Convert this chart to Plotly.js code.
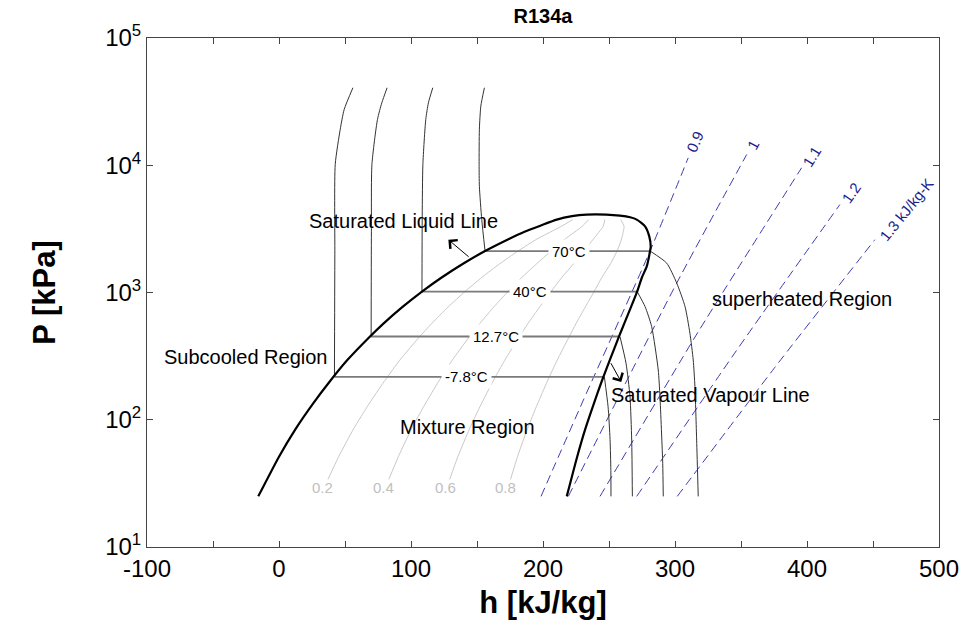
<!DOCTYPE html>
<html>
<head>
<meta charset="utf-8">
<script src="https://cdn.plot.ly/plotly-3.0.1.min.js"></script>
<style>html,body{margin:0;padding:0;background:#fff;}#chart{width:962px;height:628px;}</style>
</head>
<body>
<div id="chart"></div>
<script>
// ---------- Saturation dome (h kJ/kg, P kPa) ----------
const domeH = [-15.7, 0, 12.5, 25.5, 38.6, 51.6, 68.2, 79.3, 93.6, 108.3, 123.5, 139.4, 156.1, 174.2, 186, 198, 210.4, 222, 233, 248, 258.3, 266, 271, 277.3, 280.5, 281.6, 281.1, 278.6, 275, 271.3, 266.7, 261.6, 257.3, 250.5, 244.5, 238.4, 232.0, 225.9, 218];
const domeP = [25, 51.25, 84.43, 132.8, 200.7, 293, 443.3, 572.1, 770.6, 1017, 1318, 1683, 2118, 2635, 3000, 3350, 3741, 3980, 4093, 4093, 4018, 3900, 3741, 3311, 2763, 2301, 2118, 1603, 1318, 1017, 770.6, 572.1, 443.3, 293, 200.7, 132.8, 84.43, 51.25, 25];

// ---------- Quality lines ----------
const qualityLevels = ['0.2', '0.4', '0.6', '0.8'];
const qualityP = [34, 51.25, 84.43, 132.8, 200.7, 293, 443.3, 572.1, 770.6, 1017, 1318, 1683, 2118, 2635, 3311, 3741];
const qualityH02 = [37.1, 45.2, 56.4, 68.1, 79.8, 91.4, 106.0, 115.8, 128.2, 140.9, 153.8, 167.3, 181.1, 195.5, 213.9, 222.5];
const qualityH04 = [83.2, 90.4, 100.3, 110.7, 121.0, 131.2, 143.8, 152.2, 162.8, 173.5, 184.1, 195.2, 206.1, 216.8, 229.7, 234.6];
const qualityH06 = [129.3, 135.5, 144.2, 153.2, 162.1, 171.0, 181.7, 188.7, 197.5, 206.1, 214.4, 223.2, 231.1, 238.2, 245.6, 246.8];
const qualityH08 = [175.4, 180.7, 188.1, 195.8, 203.3, 210.7, 219.5, 225.1, 232.1, 238.7, 244.7, 251.1, 256.1, 259.5, 261.4, 258.9];
const qualityLabelH = [32.7, 78.9, 126.1, 171.5];
const qualityLabelP = 29.2;

// ---------- Isotherms ----------
const tempLabels = ['-7.8°C', '12.7°C', '40°C', '70°C'];
const satP = [217, 451, 1017, 2118];
const satHf = [42, 69.8, 108.3, 156.1];
const satHg = [246.5, 258.3, 271.3, 281.1];
const tempLabelH = [142.3, 164.6, 190.0, 219.5];

const subH_m78 = [42, 42.3, 42.6, 46.4, 49.4, 56];
const subP_m78 = [217, 2000, 10140, 19200, 27480, 40640];
const subH_127 = [69.8, 70.0, 70.4, 74.6, 77.9, 81.9];
const subP_127 = [451, 3000, 10140, 22900, 30970, 40640];
const subH_40 = [108.3, 108.5, 109, 111.2, 113.2, 116.5];
const subP_40 = [1017, 4000, 10140, 22900, 30970, 40640];
const subH_70 = [156.1, 153.6, 151.8, 151.6, 151.8, 152.9, 155.6];
const subP_70 = [2118, 3733, 6839, 10140, 19200, 29170, 40640];

const supH_m78 = [246.5, 249.3, 250.8, 251.4, 251.5];
const supP_m78 = [217, 126.5, 70, 40, 25];
const supH_127 = [258.3, 262.9, 265.9, 267.2, 267.7];
const supP_127 = [451, 278, 152, 69.2, 25];
const supH_40 = [271.3, 277.3, 282.3, 287.3, 288.6, 290.7, 291.1];
const supP_40 = [1017, 776, 540, 246, 152, 45.4, 25];
const supH_70 = [281.1, 293.7, 301.3, 307.6, 311.3, 313.8, 315.1, 316.4, 317.6];
const supP_70 = [2118, 1702, 1186, 776, 478.6, 295, 182, 69.2, 25];

// ---------- Isentropes (kJ/kg-K) ----------
const entropyLabels = ['0.9', '1', '1.1', '1.2', '1.3 kJ/kg-K'];
const sH_09 = [198.5, 230.6, 281.1, 310.0];
const sP_09 = [25, 142.8, 2118, 11430];
const sH_10 = [219.2, 301.3, 354.3];
const sP_10 = [25, 1186, 12130];
const sH_11 = [243.2, 317.3, 395.9];
const sP_11 = [25, 486, 9550];
const sH_12 = [271.0, 346.4, 424.9];
const sP_12 = [25, 348, 4909];
const sH_13 = [301.7, 375.1, 451.4];
const sP_13 = [25, 253.6, 2600];
const entropyLabelH = [315.1, 359.3, 403.5, 433.8, 475.4];
const entropyLabelP = [15450, 14550, 11780, 6065, 4480];
const entropyLabelAngle = [-66, -62, -58, -55, -51];

// ---------- Axis ticks ----------
const xTickVals = [-100, 0, 100, 200, 300, 400, 500];
const xTickText = ['-100', '0', '100', '200', '300', '400', '500'];
const yTickVals = [10, 100, 1000, 10000, 100000];
const yTickText = ['10<sup>1</sup>', '10<sup>2</sup>', '10<sup>3</sup>', '10<sup>4</sup>', '10<sup>5</sup>'];

// ---------- Region labels ----------
const regionText = ['Saturated Liquid Line', 'superheated Region', 'Subcooled Region', 'Mixture Region', 'Saturated Vapour Line'];
const regionH = [94.1, 395.9, -25.6, 142.9, 327.0];
const regionP = [3669, 891, 311.7, 88.4, 156.5];

// arrows: head and tail points
const arrowHeadH = [128.3, 259.3];
const arrowHeadP = [2601, 198];
const arrowTailH = [144.8, 250.8];
const arrowTailP = [1866, 286];

const FONT = 'Liberation Sans, Arial, Helvetica, sans-serif';
const traces = [];
function line(h, p, color, width, dash) {
  traces.push({x: h, y: p, type: 'scatter', mode: 'lines', hoverinfo: 'skip', showlegend: false,
    line: {color: color, width: width, dash: dash || 'solid', shape: 'spline', smoothing: 0.6}});
}

// quality lines
[qualityH02, qualityH04, qualityH06, qualityH08].forEach(h => line(h, qualityP, '#c9c9c9', 1));
// isentropes
const BLUE = '#3c3cb0';
[[sH_09, sP_09], [sH_10, sP_10], [sH_11, sP_11], [sH_12, sP_12], [sH_13, sP_13]].forEach(a => line(a[0], a[1], BLUE, 1, '9px,5px'));
// subcooled and superheated isotherms
[[subH_m78, subP_m78], [subH_127, subP_127], [subH_40, subP_40], [subH_70, subP_70]].forEach(a => line(a[0], a[1], '#333333', 1));
[[supH_m78, supP_m78], [supH_127, supP_127], [supH_40, supP_40], [supH_70, supP_70]].forEach(a => line(a[0], a[1], '#333333', 1));
// horizontal isotherms in dome
for (let i = 0; i < satP.length; i++) {
  traces.push({x: [satHf[i], satHg[i]], y: [satP[i], satP[i]], type: 'scatter', mode: 'lines', hoverinfo: 'skip',
    showlegend: false, line: {color: '#7a7a7a', width: 1.8}});
}
// dome
line(domeH, domeP, '#000000', 2.2);

const annotations = [];
const L = Math.log10;
for (let i = 0; i < tempLabels.length; i++) {
  annotations.push({x: tempLabelH[i], y: L(satP[i]), xref: 'x', yref: 'y', text: tempLabels[i], showarrow: false,
    font: {family: FONT, size: 15, color: '#000'}, bgcolor: '#ffffff', borderpad: 3, xanchor: 'center', yanchor: 'middle'});
}
for (let i = 0; i < qualityLevels.length; i++) {
  annotations.push({x: qualityLabelH[i], y: L(qualityLabelP), xref: 'x', yref: 'y', text: qualityLevels[i], showarrow: false,
    font: {family: FONT, size: 15, color: '#c0c0c0'}, xanchor: 'center', yanchor: 'middle'});
}
for (let i = 0; i < entropyLabels.length; i++) {
  annotations.push({x: entropyLabelH[i], y: L(entropyLabelP[i]), xref: 'x', yref: 'y', text: entropyLabels[i], showarrow: false,
    textangle: entropyLabelAngle[i], font: {family: FONT, size: 15, color: '#1e1e8c'}, xanchor: 'center', yanchor: 'middle'});
}
for (let i = 0; i < regionText.length; i++) {
  annotations.push({x: regionH[i], y: L(regionP[i]), xref: 'x', yref: 'y', text: regionText[i], showarrow: false,
    font: {family: FONT, size: 20, color: '#000'}, xanchor: 'center', yanchor: 'middle'});
}
for (let i = 0; i < arrowHeadH.length; i++) {
  annotations.push({x: arrowHeadH[i], y: L(arrowHeadP[i]), xref: 'x', yref: 'y', ax: arrowTailH[i], ay: L(arrowTailP[i]),
    axref: 'x', ayref: 'y', text: '', showarrow: true, arrowhead: 4, arrowsize: 2.2, arrowwidth: 1, arrowcolor: '#000'});
}

const axisCommon = {showline: true, linecolor: '#444', linewidth: 1, mirror: 'ticks', ticks: 'inside', ticklen: 6,
  tickcolor: '#444', tickwidth: 1, showgrid: false, zeroline: false, tickfont: {family: FONT, size: 24, color: '#000'}};

const layout = {
  width: 962, height: 628,
  margin: {l: 147, r: 23, t: 38, b: 81},
  paper_bgcolor: '#fff', plot_bgcolor: '#fff',
  title: {text: '<b>R134a</b>', x: 0.5, xref: 'paper', y: 0.975, yref: 'container', yanchor: 'middle',
    font: {family: FONT, size: 20, color: '#000'}},
  xaxis: Object.assign({}, axisCommon, {range: [-100, 500], tickmode: 'array', tickvals: xTickVals, ticktext: xTickText,
    minor: {tickmode: 'linear', tick0: -100, dtick: 50, ticks: 'inside', ticklen: 6, tickcolor: '#444', tickwidth: 1, showgrid: false},
    title: {text: '<b>h [kJ/kg]</b>', font: {family: FONT, size: 31, color: '#000'}, standoff: 10}}),
  yaxis: Object.assign({}, axisCommon, {type: 'log', range: [1, 5], tickmode: 'array', tickvals: yTickVals, ticktext: yTickText,
    title: {text: '<b>P [kPa]</b>', font: {family: FONT, size: 31, color: '#000'}, standoff: 40}}),
  annotations: annotations,
  showlegend: false
};

Plotly.newPlot('chart', traces, layout, {staticPlot: true, displayModeBar: false});
</script>
</body>
</html>
